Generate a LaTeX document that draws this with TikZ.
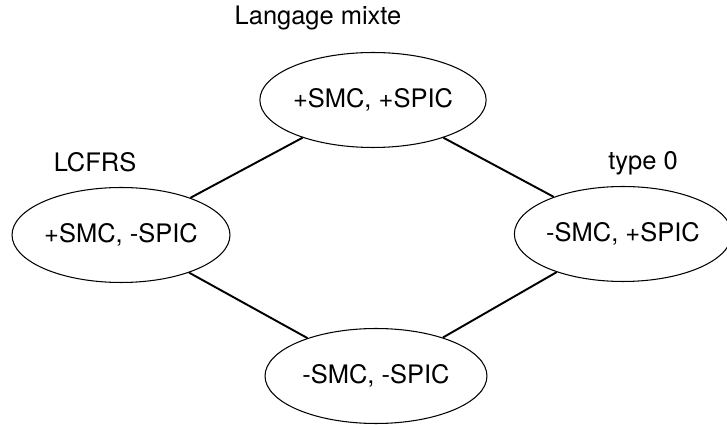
\documentclass[tikz,border=0pt]{standalone}
\usepackage{fontspec}
\setmainfont{TeX Gyre Heros}
\usepackage{tikz}
\usetikzlibrary{shapes.geometric, positioning}
\tikzset{
  lang/.style={ellipse, draw, line width=0.6pt, minimum width=4.36cm, minimum height=1.9cm, inner sep=0pt},
  tag/.style={inner sep=0pt},
  link/.style={line width=1.1pt}
}

\begin{document}
\begin{tikzpicture}[x=0.02cm, y=-0.02cm, font=\fontsize{14.5}{17}\selectfont]
  \useasboundingbox (0,0) rectangle (727,425);
  % --- the four classes ---
  \node[lang, minimum width=4.4cm]  (pp) at (373,100) {+SMC, +SPIC};
  \node[lang]                       (pm) at (121,235) {+SMC, -SPIC};
  \node[lang, minimum width=4.16cm] (mp) at (623,234) {-SMC, +SPIC};
  \node[lang, minimum width=4.44cm] (mm) at (376,376) {-SMC, -SPIC};
  % --- names ---
  \node[tag] (mixte) at (318,18)  {Langage mixte};
  \node[tag] (lcfrs) at (95,162)  {LCFRS};
  \node[tag] (type0) at (643,163) {type 0};
  % --- links ---
  \draw[link] (pp) -- (pm);
  \draw[link] (pp) -- (mp);
  \draw[link] (pm) -- (mm);
  \draw[link] (mp) -- (mm);
\end{tikzpicture}
\end{document}
